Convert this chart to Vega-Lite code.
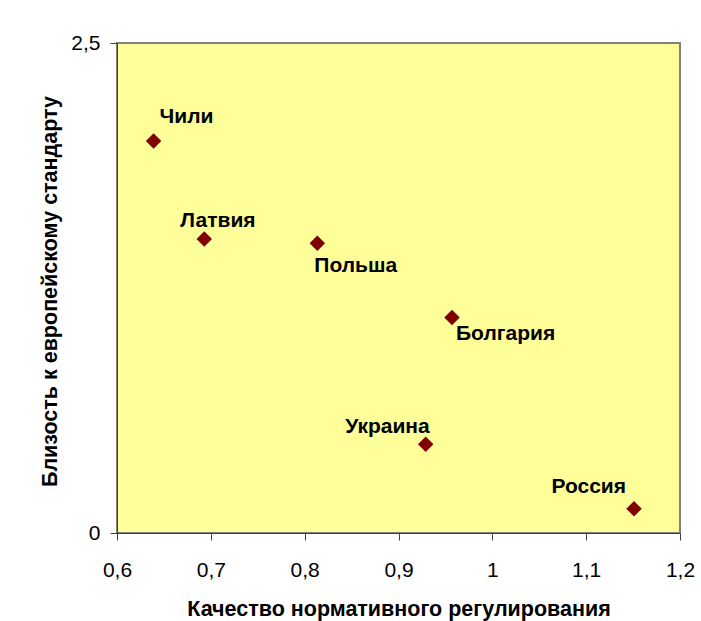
{
  "$schema": "https://vega.github.io/schema/vega-lite/v6.json",
  "autosize": "none",
  "width": 563,
  "height": 490,
  "padding": {"left": 117, "top": 43, "right": 21, "bottom": 88},
  "background": "white",
  "config": {
    "locale": {"number": {"decimal": ",", "thousands": " ", "grouping": [3], "currency": ["", ""]}},
    "view": {"fill": "#FFFF99", "stroke": "#808080", "strokeWidth": 2},
    "font": "Liberation Sans",
    "axis": {"grid": false, "labelFlush": false, "labelOverlap": false, "domainColor": "#404040", "tickColor": "#404040", "tickSize": 7, "labelColor": "black", "titleColor": "black", "labelFont": "Liberation Sans", "titleFont": "Liberation Sans"}
  },
  "data": {"values": [
    {"country": "Чили", "x": 0.639, "y": 2.0},
    {"country": "Латвия", "x": 0.693, "y": 1.50},
    {"country": "Польша", "x": 0.8135, "y": 1.478},
    {"country": "Болгария", "x": 0.957, "y": 1.10},
    {"country": "Украина", "x": 0.929, "y": 0.4525},
    {"country": "Россия", "x": 1.151, "y": 0.124}
  ]},
  "encoding": {
    "x": {"field": "x", "type": "quantitative", "scale": {"domain": [0.6, 1.2], "nice": false, "zero": false},
      "axis": {"title": "Качество нормативного регулирования", "values": [0.6, 0.7, 0.8, 0.9, 1.0, 1.1, 1.2], "format": ".1~f", "labelFontSize": 21, "labelPadding": 19, "titleFontSize": 21.5, "titleFontWeight": "bold", "titleBaseline": "alphabetic", "titleY": 82}},
    "y": {"field": "y", "type": "quantitative", "scale": {"domain": [0, 2.5], "nice": false},
      "axis": {"title": "Близость к европейскому стандарту", "values": [0, 2.5], "format": ".1~f", "labelFontSize": 21, "labelPadding": 10, "titleFontSize": 21.5, "titleFontWeight": "bold", "titleBaseline": "alphabetic", "titleX": -61, "titleY": 248}}
  },
  "layer": [
    {"mark": {"type": "point", "shape": "diamond", "filled": true, "size": 240, "color": "#800000", "opacity": 1}},
    {"transform": [{"filter": "datum.country === 'Чили'"}], "mark": {"type": "text", "align": "left", "baseline": "alphabetic", "dx": 6, "dy": -18, "fontSize": 21, "fontWeight": "bold", "color": "black"}, "encoding": {"text": {"field": "country"}}},
    {"transform": [{"filter": "datum.country === 'Латвия'"}], "mark": {"type": "text", "align": "left", "baseline": "alphabetic", "dx": -24, "dy": -12, "fontSize": 21, "fontWeight": "bold", "color": "black"}, "encoding": {"text": {"field": "country"}}},
    {"transform": [{"filter": "datum.country === 'Польша'"}], "mark": {"type": "text", "align": "left", "baseline": "alphabetic", "dx": -3, "dy": 29, "fontSize": 21, "fontWeight": "bold", "color": "black"}, "encoding": {"text": {"field": "country"}}},
    {"transform": [{"filter": "datum.country === 'Болгария'"}], "mark": {"type": "text", "align": "left", "baseline": "alphabetic", "dx": 4, "dy": 23, "fontSize": 21, "fontWeight": "bold", "color": "black"}, "encoding": {"text": {"field": "country"}}},
    {"transform": [{"filter": "datum.country === 'Украина'"}], "mark": {"type": "text", "align": "right", "baseline": "alphabetic", "dx": 4, "dy": -11, "fontSize": 21, "fontWeight": "bold", "color": "black"}, "encoding": {"text": {"field": "country"}}},
    {"transform": [{"filter": "datum.country === 'Россия'"}], "mark": {"type": "text", "align": "right", "baseline": "alphabetic", "dx": -8, "dy": -16, "fontSize": 21, "fontWeight": "bold", "color": "black"}, "encoding": {"text": {"field": "country"}}}
  ]
}
